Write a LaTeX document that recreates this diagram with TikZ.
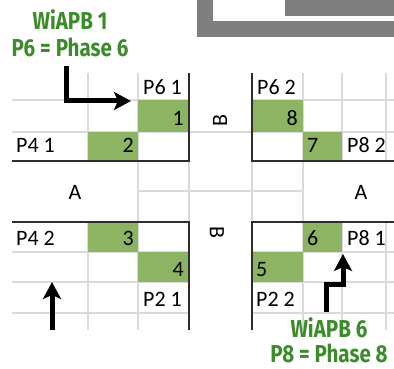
\documentclass[tikz,border=0pt]{standalone}
\usepackage{fontspec}
\setmainfont{Carlito}
\newfontfamily\lblfont[FakeStretch=0.84]{Fira Sans}
\usetikzlibrary{arrows.meta}
\definecolor{cellgreen}{RGB}{141,180,98}
\definecolor{lblgreen}{RGB}{60,140,44}
\definecolor{gridc}{RGB}{218,218,218}
\definecolor{darkline}{RGB}{45,45,45}
\definecolor{framegray}{RGB}{127,127,127}
\begin{document}
\begin{tikzpicture}[x=1pt,y=-1pt,
  gridl/.style={gridc, line width=1.5pt},
  edgel/.style={darkline, line width=1.7pt},
  fillc/.style={fill=cellgreen, draw=none},
  celltxt/.style={inner sep=0pt, font=\fontsize{22}{22}\selectfont},
  lbl/.style={font=\lblfont\bfseries\fontsize{24.5}{24.5}\selectfont, text=lblgreen, inner sep=0pt, text depth=0pt},
  bigarrow/.style={line width=5pt, -{Stealth[length=17pt,width=18pt,inset=4pt]}}]
\useasboundingbox (0,0) rectangle (394,369);
% frame at top right
\fill[framegray] (197,0) rectangle (394,37);
\fill[white] (213,0) rectangle (394,21);
\fill[framegray] (285,0) rectangle (394,16);
% light grid
\draw[gridl] (12,100) -- (189,100);
\draw[gridl] (12,132) -- (252,132);
\draw[gridl] (88,73) -- (88,161);
\draw[gridl] (138,73) -- (138,330);
\draw[gridl] (88,222) -- (88,330);
\draw[gridl] (252,100) -- (394,100);
\draw[gridl] (252,132) -- (394,132);
\draw[gridl] (303,73) -- (303,330);
\draw[gridl] (342,73) -- (342,161);
\draw[gridl] (386,73) -- (386,161);
\draw[gridl] (342,222) -- (342,330);
\draw[gridl] (386,222) -- (386,330);
\draw[gridl] (138,191) -- (303,191);
\draw[gridl] (189,161) -- (189,222);
\draw[gridl] (252,161) -- (252,222);
\draw[gridl] (12,252) -- (189,252);
\draw[gridl] (12,282) -- (189,282);
\draw[gridl] (12,313) -- (189,313);
\draw[gridl] (252,252) -- (394,252);
\draw[gridl] (252,282) -- (394,282);
\draw[gridl] (252,313) -- (394,313);
% green cells
\fill[fillc] (138,100) rectangle (189,132);
\fill[fillc] (88,132) rectangle (138,161);
\fill[fillc] (252,100) rectangle (303,132);
\fill[fillc] (303,132) rectangle (342,161);
\fill[fillc] (88,222) rectangle (138,252);
\fill[fillc] (138,252) rectangle (189,282);
\fill[fillc] (303,222) rectangle (342,252);
\fill[fillc] (252,252) rectangle (303,282);
% dark borders
\draw[edgel] (189,73) -- (189,161) -- (12,161);
\draw[edgel] (252,73) -- (252,161) -- (394,161);
\draw[edgel] (12,222) -- (189,222) -- (189,330);
\draw[edgel] (394,222) -- (252,222) -- (252,330);
% cell texts
\node[celltxt, anchor=base west] (p61) at (143,95) {P6 1};
\node[celltxt, anchor=base east] (c1) at (184,125) {1};
\node[celltxt, anchor=base west] (p41) at (16,152) {P4 1};
\node[celltxt, anchor=base east] (c2) at (134,152) {2};
\node[celltxt, anchor=base west] (p62) at (257,95) {P6 2};
\node[celltxt, anchor=base east] (c8) at (298,125) {8};
\node[celltxt, anchor=base west] (c7) at (307,152) {7};
\node[celltxt, anchor=base west] (p82) at (347,152) {P8 2};
\node[celltxt, anchor=base] (al) at (75,199) {A};
\node[celltxt, anchor=base] (ar) at (361,199) {A};
\node[celltxt, rotate=90] (bt) at (220,121) {B};
\node[celltxt, rotate=-90] (bb) at (217,232) {B};
\node[celltxt, anchor=base west] (p42) at (16,245) {P4 2};
\node[celltxt, anchor=base east] (c3) at (134,245) {3};
\node[celltxt, anchor=base east] (c4) at (184,276) {4};
\node[celltxt, anchor=base west] (p21) at (143,306) {P2 1};
\node[celltxt, anchor=base west] (c6) at (307,245) {6};
\node[celltxt, anchor=base west] (p81) at (347,245) {P8 1};
\node[celltxt, anchor=base west] (c5) at (256,276) {5};
\node[celltxt, anchor=base west] (p22) at (256,306) {P2 2};
% green labels
\node[lbl, anchor=base] (w1) at (70,30) {WiAPB 1};
\node[lbl, anchor=base] (ph6) at (70,57) {P6 = Phase 6};
\node[lbl, anchor=base] (w6) at (329,337) {WiAPB 6};
\node[lbl, anchor=base] (ph8) at (329,362) {P8 = Phase 8};
% arrows
\coordinate (a1s) at (66,66);
\coordinate (a1c) at (66,101);
\coordinate (a1e) at (131,101);
\draw[bigarrow] (a1s) -- (a1c) -- (a1e);
\coordinate (a2s) at (52,330);
\coordinate (a2e) at (52,282);
\draw[bigarrow] (a2s) -- (a2e);
\coordinate (a3s) at (326,312);
\coordinate (a3c) at (326,284);
\coordinate (a3d) at (343,284);
\coordinate (a3e) at (343,254);
\draw[bigarrow] (a3s) -- (a3c) -- (a3d) -- (a3e);
\end{tikzpicture}
\end{document}
